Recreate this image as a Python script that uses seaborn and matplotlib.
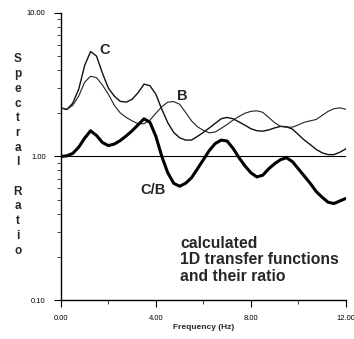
import matplotlib
matplotlib.use("Agg")
import matplotlib.pyplot as plt
import numpy as np
import pandas as pd
import seaborn as sns
from matplotlib.ticker import FixedLocator, FixedFormatter, NullFormatter

# ---- data ----
freq = [0.0, 0.25, 0.5, 0.75, 1.0, 1.25, 1.5, 1.75, 2.0, 2.25, 2.5, 2.75,
        3.0, 3.25, 3.5, 3.75, 4.0, 4.25, 4.5, 4.75, 5.0, 5.25, 5.5, 5.75,
        6.0, 6.25, 6.5, 6.75, 7.0, 7.25, 7.5, 7.75, 8.0, 8.25, 8.5, 8.75,
        9.0, 9.25, 9.5, 9.75, 10.0, 10.25, 10.5, 10.75, 11.0, 11.25, 11.5, 11.75, 12.0]

c_vals = [2.18, 2.12, 2.35, 2.94, 4.30, 5.38, 5.00, 3.80, 2.99, 2.63, 2.42, 2.39,
          2.50, 2.78, 3.19, 3.11, 2.71, 2.13, 1.72, 1.47, 1.35, 1.30, 1.30, 1.38,
          1.47, 1.58, 1.70, 1.83, 1.87, 1.83, 1.74, 1.65, 1.56, 1.51, 1.50, 1.53,
          1.58, 1.62, 1.61, 1.55, 1.42, 1.30, 1.21, 1.12, 1.06, 1.03, 1.03, 1.07, 1.13]

b_vals = [2.18, 2.13, 2.27, 2.63, 3.29, 3.62, 3.54, 3.14, 2.71, 2.27, 2.01, 1.87,
          1.77, 1.69, 1.69, 1.79, 2.00, 2.22, 2.39, 2.41, 2.31, 2.03, 1.77, 1.61,
          1.52, 1.46, 1.48, 1.57, 1.67, 1.79, 1.90, 2.00, 2.06, 2.08, 2.03, 1.87,
          1.72, 1.62, 1.60, 1.60, 1.66, 1.73, 1.77, 1.81, 1.93, 2.06, 2.15, 2.18, 2.13]

cb_vals = [1.00, 1.01, 1.05, 1.16, 1.34, 1.51, 1.40, 1.25, 1.19, 1.22, 1.29, 1.39,
           1.51, 1.66, 1.83, 1.73, 1.38, 1.00, 0.77, 0.65, 0.62, 0.65, 0.71, 0.82,
           0.95, 1.10, 1.23, 1.30, 1.28, 1.14, 0.98, 0.86, 0.77, 0.72, 0.74, 0.82,
           0.89, 0.95, 0.98, 0.92, 0.82, 0.73, 0.65, 0.57, 0.52, 0.48, 0.47, 0.49, 0.51]

x_ticks = [0, 4, 8, 12]
x_ticklabels = ["0.00", "4.00", "8.00", "12.00"]
y_ticks = [0.1, 1.0, 10.0]
y_ticklabels = ["0.10", "1.00", "10.00"]
series_labels = ["C", "B", "C/B"]
ylabel_text = "Spectral Ratio"
xlabel_text = "Frequency (Hz)"
note_text = "calculated\n1D transfer functions\nand their ratio"

df_c = pd.DataFrame({"f": freq, "v": c_vals})
df_b = pd.DataFrame({"f": freq, "v": b_vals})
df_cb = pd.DataFrame({"f": freq, "v": cb_vals})

sns.set_style("ticks")
plt.rcParams["font.family"] = ["Liberation Sans", "DejaVu Sans"]

fig = plt.figure(figsize=(3.54, 3.39), dpi=100)
ax = fig.add_axes([0.172, 0.115, 0.805, 0.847])

ax.axhline(1.0, color="black", lw=0.8, zorder=1)
sns.lineplot(data=df_c, x="f", y="v", ax=ax, color="#111111", lw=1.0)
sns.lineplot(data=df_b, x="f", y="v", ax=ax, color="#222222", lw=0.8)
sns.lineplot(data=df_cb, x="f", y="v", ax=ax, color="black", lw=2.2)

ax.set_yscale("log")
ax.set_xlim(0, 12)
ax.set_ylim(0.1, 10)

ax.xaxis.set_major_locator(FixedLocator(x_ticks))
ax.xaxis.set_major_formatter(FixedFormatter(x_ticklabels))
ax.xaxis.set_minor_locator(FixedLocator([2, 6, 10]))
ax.yaxis.set_major_locator(FixedLocator(y_ticks))
ax.yaxis.set_major_formatter(FixedFormatter(y_ticklabels))
ax.yaxis.set_minor_locator(FixedLocator([m * d for d in (0.1, 1.0) for m in range(2, 10)]))
ax.yaxis.set_minor_formatter(NullFormatter())

ax.tick_params(axis="both", which="major", labelsize=5.5, length=5, width=0.8,
               direction="out", color="black", labelcolor="black", pad=6)
ax.tick_params(axis="both", which="minor", length=3, width=0.6, direction="out")
ax.tick_params(axis="x", which="major", pad=6)

for s in ("top", "right"):
    ax.spines[s].set_visible(False)
for s in ("left", "bottom"):
    ax.spines[s].set_linewidth(1.0)
    ax.spines[s].set_color("black")

ax.set_xlabel(xlabel_text, fontsize=6, fontweight="bold", labelpad=1)
ax.set_ylabel("")

# stacked vertical y label
stacked = "\n".join(list(ylabel_text))
fig.text(18 / 354, 1 - 155 / 339, stacked, ha="center", va="center",
         fontsize=8.5, fontweight="bold", linespacing=1.3)

ax.annotate(series_labels[0], xy=(1.86, 5.5), fontsize=10.5, fontweight="bold",
            ha="center", va="center")
ax.annotate(series_labels[1], xy=(5.11, 2.63), fontsize=10.5, fontweight="bold",
            ha="center", va="center")
ax.annotate(series_labels[2], xy=(3.87, 0.587), fontsize=10.5, fontweight="bold",
            ha="center", va="center")
ax.text(5.03, 0.19, note_text, fontsize=11.3, fontweight="bold", ha="left",
        va="center", linespacing=1.12)

fig.savefig("out.png", dpi=100)
